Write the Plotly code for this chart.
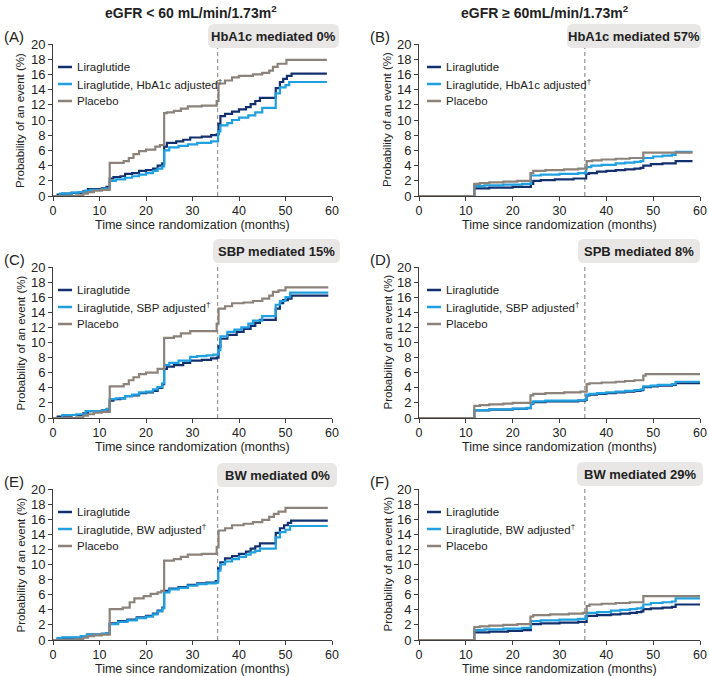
import plotly.graph_objects as go

# ---------------- data (months, cumulative probability %) ----------------
A_lira_t = [0, 1, 2, 4, 6.5, 7.5, 10.5, 11.5, 12.2, 13, 14.5, 15.5, 17, 18.5, 20, 21.5, 22.5, 23.5, 23.9, 24.5, 26.5, 28, 29.5, 32, 34, 35.2, 35.6, 36, 37, 38.5, 40, 41.5, 42.5, 43.5, 44.5, 47.9, 48.8, 49.5, 50.3, 51.3, 58.9]
A_lira_v = [0, 0.2, 0.3, 0.4, 0.6, 0.9, 1.0, 1.2, 2.3, 2.5, 2.6, 2.9, 3.0, 3.3, 3.4, 3.6, 4.0, 4.3, 6.5, 7.0, 7.2, 7.4, 7.7, 7.8, 8.0, 8.1, 9.5, 10.5, 10.8, 11.1, 11.4, 11.7, 12.1, 12.5, 12.9, 14.2, 15.0, 15.4, 15.8, 16.1, 16.1]
A_adj_t = [0, 1.5, 4, 5.5, 7, 8, 10.5, 11.5, 12.2, 13.5, 15.5, 17, 18.5, 20, 21.5, 22.5, 23.5, 23.9, 25, 27, 29, 31, 34, 35.5, 36, 37.5, 38.5, 40, 42, 43.5, 45, 47.9, 48.8, 50, 50.8, 58.9]
A_adj_v = [0, 0.3, 0.45, 0.5, 0.7, 0.8, 0.9, 1.0, 2.0, 2.2, 2.4, 2.6, 2.8, 3.0, 3.3, 3.6, 3.9, 6.0, 6.4, 6.6, 6.8, 7.0, 7.2, 8.5, 9.3, 9.6, 10.0, 10.3, 10.6, 11.0, 11.6, 13.5, 14.3, 14.6, 15.0, 15.0]
A_pla_t = [0, 5, 6.5, 7.5, 8.8, 10.5, 12.2, 15.2, 16.3, 17.3, 18.5, 20, 22, 23, 23.9, 24.5, 26, 27.5, 29, 32, 35.2, 35.6, 37, 38.5, 40, 43, 45, 46.5, 47.3, 48.3, 50.2, 58.9]
A_pla_v = [0, 0.1, 0.3, 0.5, 0.7, 0.8, 4.35, 4.6, 5.0, 5.5, 5.9, 6.1, 6.5, 6.7, 10.9, 11.0, 11.2, 11.5, 11.8, 11.9, 12.5, 14.8, 15.2, 15.6, 15.8, 16.0, 16.2, 16.5, 17.0, 17.4, 17.9, 17.9]

B_lira_t = [0, 11.8, 15, 20, 23.9, 24.4, 26, 29, 33, 35.7, 36.3, 38, 40, 42, 44, 46, 47.3, 47.9, 49.5, 52, 54.8, 58.4]
B_lira_v = [0, 1.0, 1.1, 1.2, 1.6, 2.0, 2.1, 2.2, 2.3, 2.9, 3.0, 3.2, 3.3, 3.4, 3.5, 3.6, 3.7, 4.0, 4.2, 4.3, 4.6, 4.6]
B_adj_t = [0, 11.8, 14, 18, 22, 23.9, 26, 30, 34, 35.7, 36.8, 39, 42, 44, 46, 47.3, 47.9, 50, 52, 54, 54.8, 58.4]
B_adj_v = [0, 1.3, 1.4, 1.5, 1.6, 2.7, 2.8, 2.9, 3.0, 3.8, 4.0, 4.1, 4.3, 4.4, 4.5, 4.6, 5.0, 5.2, 5.3, 5.4, 5.8, 5.8]
B_pla_t = [0, 11.8, 13, 15, 18, 21, 23.8, 24.4, 27, 31, 34, 35.8, 37, 39, 42, 45, 47.9, 58.4]
B_pla_v = [0, 1.6, 1.7, 1.8, 1.9, 2.0, 3.0, 3.3, 3.4, 3.5, 3.6, 4.6, 4.7, 4.8, 4.9, 5.0, 5.7, 5.7]

C_lira_t = [0, 1, 2, 4, 6.5, 7.5, 10.5, 11.5, 12.2, 13, 14.5, 15.5, 17, 18.5, 20, 21.5, 22.5, 23.5, 23.9, 24.5, 26, 28, 29.5, 32, 34, 35.2, 35.6, 36, 37.5, 39.5, 41, 42.5, 43.5, 44.5, 47.9, 48.8, 49.5, 50.5, 51.3, 59.2]
C_lira_v = [0, 0.2, 0.3, 0.4, 0.6, 0.9, 1.0, 1.1, 2.3, 2.5, 2.6, 2.9, 3.0, 3.3, 3.4, 3.6, 4.0, 4.5, 6.5, 6.8, 7.0, 7.3, 7.6, 7.7, 7.9, 8.0, 9.5, 10.5, 11.0, 11.4, 11.8, 12.2, 12.6, 13.0, 14.5, 15.2, 15.6, 15.8, 16.2, 16.2]
C_adj_t = [0, 2, 5, 7, 10.5, 11.5, 12.2, 13.5, 15.5, 17, 18.5, 20, 21.5, 22.5, 23.5, 23.9, 25, 27, 29.5, 31, 33, 34.5, 35.5, 36, 37.5, 39, 40.5, 42, 43, 45, 47.9, 48.8, 50, 51, 59.2]
C_adj_v = [0, 0.4, 0.5, 0.9, 1.0, 1.2, 2.5, 2.6, 2.9, 3.1, 3.4, 3.5, 3.8, 4.1, 4.6, 7.0, 7.3, 7.6, 8.1, 8.2, 8.3, 8.4, 9.0, 10.8, 11.4, 11.7, 12.0, 12.5, 12.9, 13.5, 15.0, 15.5, 16.0, 16.6, 16.6]
C_pla_t = [0, 5, 6.5, 7.5, 8.8, 10.5, 12.2, 15.2, 16.3, 17.3, 18.5, 20, 22.5, 23.9, 26, 27.5, 29.5, 35.2, 35.6, 37, 38.5, 41, 43, 45, 46.5, 47.3, 48.5, 50, 59.2]
C_pla_v = [0, 0.1, 0.3, 0.5, 0.7, 0.8, 4.2, 4.5, 5.0, 5.4, 5.8, 6.0, 6.5, 10.6, 10.8, 11.2, 11.5, 12.5, 14.5, 14.8, 15.2, 15.3, 15.5, 15.8, 16.2, 16.7, 16.9, 17.3, 17.3]

D_lira_t = [0, 11.8, 15, 20, 23, 23.9, 24.4, 27, 34, 35.5, 35.8, 36.4, 38, 40, 42, 44, 46, 47.3, 47.9, 49.5, 51, 54, 54.8, 60]
D_lira_v = [0, 1.0, 1.1, 1.2, 1.3, 1.9, 2.1, 2.2, 2.3, 2.4, 3.0, 3.1, 3.2, 3.3, 3.4, 3.5, 3.6, 3.7, 4.1, 4.2, 4.3, 4.4, 4.6, 4.6]
D_adj_t = [0, 11.8, 15, 20, 23, 23.9, 24.4, 27, 34, 35.5, 35.8, 36.4, 38, 40, 42, 44, 46, 47.3, 47.9, 49.5, 51, 54, 54.8, 60]
D_adj_v = [0, 1.05, 1.15, 1.25, 1.35, 2.0, 2.2, 2.3, 2.35, 2.45, 3.1, 3.2, 3.3, 3.4, 3.5, 3.6, 3.7, 3.8, 4.2, 4.3, 4.4, 4.5, 4.8, 4.8]
D_pla_t = [0, 11.8, 13, 15, 18, 20, 23.8, 24.4, 27, 31, 34.5, 35.8, 36.4, 39, 42, 44, 46, 47.9, 48.4, 60]
D_pla_v = [0, 1.6, 1.7, 1.8, 1.9, 2.0, 3.0, 3.2, 3.3, 3.4, 3.5, 4.5, 4.6, 4.7, 4.8, 4.9, 5.0, 5.6, 5.8, 5.8]

E_lira_t = [0, 1, 2, 5, 6, 7.3, 10.5, 11.5, 12.2, 14, 16, 18, 20, 21.5, 22.5, 23.5, 23.9, 25, 27, 29, 31, 33, 35, 35.5, 36, 37, 38.5, 40, 41.5, 42.5, 43.5, 44.5, 47.9, 48.8, 49.7, 50.5, 51.2, 59.1]
E_lira_v = [0, 0.2, 0.3, 0.3, 0.5, 0.7, 0.8, 0.9, 2.2, 2.5, 2.7, 3.0, 3.2, 3.5, 3.9, 4.3, 6.5, 6.8, 7.0, 7.3, 7.5, 7.6, 7.8, 9.5, 10.3, 10.8, 11.1, 11.4, 11.7, 12.1, 12.4, 12.8, 14.2, 14.8, 15.2, 15.5, 15.8, 15.8]
E_adj_t = [0, 1, 2, 5, 6, 7.3, 10.5, 11.5, 12.2, 14, 16, 18, 20, 21.5, 22.5, 23.5, 23.9, 25, 27, 29, 31, 33, 35, 35.5, 36, 37, 38.5, 40, 41.5, 42.5, 43.5, 44.5, 47.9, 48.8, 50, 51, 59.1]
E_adj_v = [0, 0.25, 0.35, 0.35, 0.5, 0.7, 0.8, 0.9, 2.1, 2.4, 2.6, 2.9, 3.1, 3.4, 3.8, 4.2, 6.3, 6.7, 6.9, 7.2, 7.4, 7.5, 7.6, 9.2, 10.0, 10.4, 10.7, 11.0, 11.3, 11.6, 11.8, 12.1, 13.6, 14.3, 14.6, 15.1, 15.1]
E_pla_t = [0, 5, 6.5, 7.5, 8.8, 10.5, 12.2, 15, 16.5, 17.5, 19.5, 21, 22.5, 23.3, 23.9, 26, 27.5, 29, 32, 35.2, 35.6, 37, 38.5, 41, 43, 45, 46.5, 47.5, 48.5, 50, 59.1]
E_pla_v = [0, 0.1, 0.3, 0.5, 0.6, 0.7, 4.1, 4.3, 5.0, 5.5, 5.8, 6.1, 6.3, 6.5, 10.5, 10.7, 11.0, 11.3, 11.4, 12.3, 14.5, 14.8, 15.2, 15.4, 15.6, 15.9, 16.3, 16.7, 17.0, 17.5, 17.5]

F_lira_t = [0, 11.8, 15, 19, 22, 23.9, 26, 30, 34, 35.8, 38, 41, 43, 45, 46.5, 47.5, 47.9, 49.5, 52, 54, 54.8, 60]
F_lira_v = [0, 1.0, 1.1, 1.2, 1.3, 2.1, 2.2, 2.3, 2.4, 3.2, 3.3, 3.4, 3.5, 3.6, 3.7, 3.8, 4.1, 4.2, 4.3, 4.4, 4.7, 4.7]
F_adj_t = [0, 11.8, 14, 18, 22, 23.9, 26, 30, 34, 35.8, 38, 41, 43, 45, 46.5, 47.5, 47.9, 49.5, 52, 54, 54.8, 60]
F_adj_v = [0, 1.3, 1.4, 1.5, 1.6, 2.5, 2.6, 2.7, 2.8, 3.6, 3.7, 3.9, 4.0, 4.1, 4.2, 4.3, 4.7, 4.9, 5.0, 5.1, 5.5, 5.5]
F_pla_t = [0, 11.8, 13, 15, 18, 21, 23.8, 24.4, 28, 32, 35, 35.8, 36.4, 39, 42, 45, 47.9, 60]
F_pla_v = [0, 1.7, 1.8, 1.9, 2.0, 2.1, 3.1, 3.3, 3.4, 3.5, 3.6, 4.5, 4.7, 4.8, 4.9, 5.0, 5.8, 5.8]

panel_letters = ["A", "B", "C", "D", "E", "F"]
mediators = ["HbA1c", "HbA1c", "SBP", "SBP", "BW", "BW"]
mediation_labels = ["HbA1c mediated 0%", "HbA1c mediated 57%", "SBP mediated 15%",
                    "SPB mediated 8%", "BW mediated 0%", "BW mediated 29%"]
column_titles = ["eGFR &lt; 60 mL/min/1.73m<sup>2</sup>", "eGFR ≥ 60mL/min/1.73m<sup>2</sup>"]
x_title = "Time since randomization (months)"
y_title = "Probability of an event (%)"
cutoff_month = 35.4
x_ticks = [0, 10, 20, 30, 40, 50, 60]
y_ticks = [0, 2, 4, 6, 8, 10, 12, 14, 16, 18, 20]

series = {
    "A": [(A_lira_t, A_lira_v), (A_adj_t, A_adj_v), (A_pla_t, A_pla_v)],
    "B": [(B_lira_t, B_lira_v), (B_adj_t, B_adj_v), (B_pla_t, B_pla_v)],
    "C": [(C_lira_t, C_lira_v), (C_adj_t, C_adj_v), (C_pla_t, C_pla_v)],
    "D": [(D_lira_t, D_lira_v), (D_adj_t, D_adj_v), (D_pla_t, D_pla_v)],
    "E": [(E_lira_t, E_lira_v), (E_adj_t, E_adj_v), (E_pla_t, E_pla_v)],
    "F": [(F_lira_t, F_lira_v), (F_adj_t, F_adj_v), (F_pla_t, F_pla_v)],
}

# ---------------- styling / layout ----------------
NAVY = "#12306e"
SKY = "#1fa0e0"
GRAY = "#8c827a"
colors = [NAVY, SKY, GRAY]
FONT = "Liberation Sans, Arial, Helvetica, sans-serif"
AXC = "#3c3c3c"
TXT = "#222222"

W, H = 709, 676
def px(x):
    return x / W
def py(y):
    return 1 - y / H

col_px = [(53, 332), (419, 700)]
row_px = [(44, 196), (267, 418), (489, 640)]
box_px = [(208, 24, 339, 48), (567, 24, 701, 48), (213, 239, 340, 263),
          (578, 239, 700, 263), (217, 463, 337, 487), (577, 462, 703, 486)]

fig = go.Figure()
layout = dict(
    width=W, height=H, margin=dict(l=0, r=0, t=0, b=0, pad=0, autoexpand=False),
    paper_bgcolor="white", plot_bgcolor="white", showlegend=False,
    font=dict(family=FONT, color=TXT),
)
shapes = []
annotations = []

def rounded(x0, y0, x1, y1, r):
    return (f"M {px(x0+r)},{py(y0)} L {px(x1-r)},{py(y0)} Q {px(x1)},{py(y0)} {px(x1)},{py(y0+r)} "
            f"L {px(x1)},{py(y1-r)} Q {px(x1)},{py(y1)} {px(x1-r)},{py(y1)} "
            f"L {px(x0+r)},{py(y1)} Q {px(x0)},{py(y1)} {px(x0)},{py(y1-r)} "
            f"L {px(x0)},{py(y0+r)} Q {px(x0)},{py(y0)} {px(x0+r)},{py(y0)} Z")

for i, letter in enumerate(panel_letters):
    n = i + 1
    r, c = divmod(i, 2)
    x0, x1 = col_px[c]
    y0, y1 = row_px[r]
    xa = "x" if n == 1 else f"x{n}"
    ya = "y" if n == 1 else f"y{n}"
    names = ["Liraglutide", f"Liraglutide, {mediators[i]} adjusted†", "Placebo"]
    for (t, v), col, nm in zip(series[letter], colors, names):
        fig.add_trace(go.Scatter(x=t, y=v, mode="lines", line=dict(color=col, width=2.2, shape="hv"),
                                 name=nm, xaxis=xa, yaxis=ya, hoverinfo="x+y+name"))
    common = dict(showline=True, linecolor=AXC, linewidth=1, ticks="outside", ticklen=4,
                  tickcolor=AXC, tickwidth=1, showgrid=False, zeroline=False, automargin=False,
                  ticklabeloverflow="allow")
    layout["xaxis" if n == 1 else f"xaxis{n}"] = dict(
        common, domain=[px(x0), px(x1)], anchor=ya, range=[0, 60], tickvals=x_ticks,
        ticklabelstandoff=-1, tickfont=dict(size=12.5, color=TXT, family=FONT))
    layout["yaxis" if n == 1 else f"yaxis{n}"] = dict(
        common, domain=[py(y1), py(y0)], anchor=xa, range=[0, 20], tickvals=y_ticks,
        tickfont=dict(size=13, color=TXT, family=FONT))
    # axis titles
    annotations.append(dict(xref=f"{xa} domain", yref=f"{ya} domain", x=0.5, y=0, yshift=-29,
                            text=x_title, showarrow=False, xanchor="center", yanchor="middle",
                            font=dict(size=12.5, family=FONT, color=TXT)))
    annotations.append(dict(xref=f"{xa} domain", yref=f"{ya} domain", x=0, y=0.5,
                            xshift=-33 if c == 0 else -32, textangle=-90,
                            text=y_title, showarrow=False, xanchor="center", yanchor="middle",
                            font=dict(size=11.5, family=FONT, color=TXT)))
    # dashed reference line
    shapes.append(dict(type="line", xref=xa, yref=f"{ya} domain", x0=cutoff_month, x1=cutoff_month,
                       y0=0, y1=1, line=dict(color="#9a9a9a", width=1.3, dash="4px,3px"), layer="below"))
    # mediation box
    bx0, by0, bx1, by1 = box_px[i]
    shapes.append(dict(type="path", xref="paper", yref="paper", path=rounded(bx0, by0, bx1, by1, 6),
                       fillcolor="#e8e7e5", line=dict(width=0), layer="above"))
    annotations.append(dict(xref="paper", yref="paper", x=px((bx0 + bx1) / 2), y=py((by0 + by1) / 2),
                            text=f"<b>{mediation_labels[i]}</b>", showarrow=False,
                            font=dict(size=13, family=FONT, color=TXT), xanchor="center", yanchor="middle"))
    # panel letter
    lx = 2 if c == 0 else 368
    annotations.append(dict(xref="paper", yref="paper", x=px(lx), y=py(y0 - 8), text=f"({letter})",
                            showarrow=False, font=dict(size=15, family=FONT, color=TXT),
                            xanchor="left", yanchor="middle"))
    # legend keys
    kx0 = x0 + (5 if c == 0 else 8)
    for k, (nm, col) in enumerate(zip(names, colors)):
        yy = y0 + 23 + 17 * k
        shapes.append(dict(type="line", xref="paper", yref="paper", x0=px(kx0), x1=px(kx0 + 14),
                           y0=py(yy), y1=py(yy), line=dict(color=col, width=2.5)))
        txt = nm.replace("†", "<sup>†</sup>")
        annotations.append(dict(xref="paper", yref="paper", x=px(kx0 + 17), y=py(yy), text=txt,
                                showarrow=False, font=dict(size=11.5, family=FONT, color=TXT),
                                xanchor="left", yanchor="middle"))

for c, title in enumerate(column_titles):
    cx = 191 if c == 0 else 545
    annotations.append(dict(xref="paper", yref="paper", x=px(cx), y=py(12), text=f"<b>{title}</b>",
                            showarrow=False, font=dict(size=14, family=FONT, color=TXT),
                            xanchor="center", yanchor="middle"))

layout["shapes"] = shapes
layout["annotations"] = annotations
fig.update_layout(**layout)
# remove the default 8px page margin so the 709x676 figure fills the window exactly
fig.write_html("out.html", config={"displayModeBar": False},
               post_script="document.body.style.margin='0px';")
